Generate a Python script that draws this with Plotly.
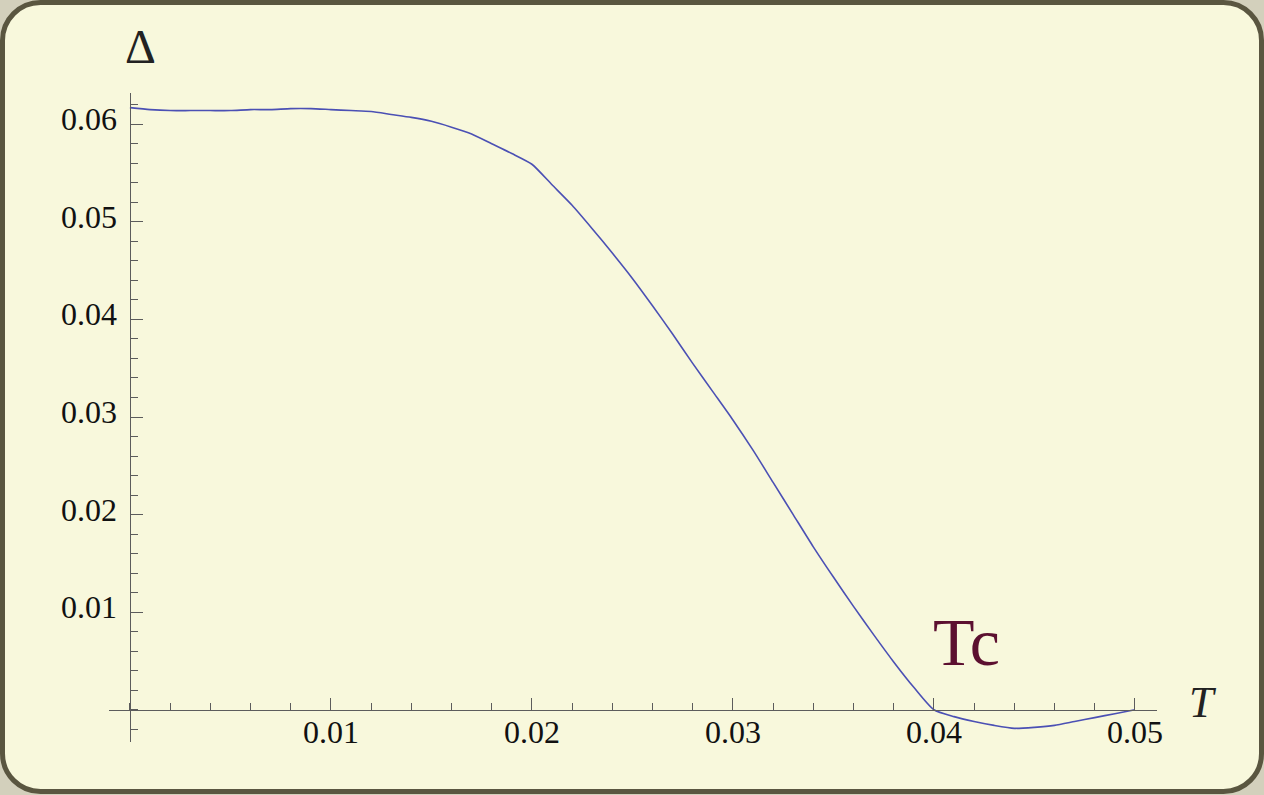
import plotly.graph_objects as go

# ---------------- data ----------------
T_vals = [0.000, 0.001, 0.002, 0.003, 0.004, 0.005, 0.006, 0.007, 0.008, 0.009,
          0.010, 0.011, 0.012, 0.013, 0.014, 0.015, 0.016, 0.017, 0.018, 0.019,
          0.020, 0.021, 0.022, 0.023, 0.024, 0.025, 0.026, 0.027, 0.028, 0.029,
          0.030, 0.031, 0.032, 0.033, 0.034, 0.035, 0.036, 0.037, 0.038, 0.039,
          0.040, 0.041, 0.042, 0.043, 0.044, 0.045, 0.046, 0.047, 0.048, 0.049,
          0.050]
Delta_vals = [0.0617, 0.0615, 0.0614, 0.0614, 0.0614, 0.0614, 0.0615, 0.0615, 0.0616, 0.0616,
              0.0615, 0.0614, 0.0613, 0.0610, 0.0607, 0.0603, 0.0597, 0.0590, 0.0580, 0.0570,
              0.0559, 0.0538, 0.0517, 0.0493, 0.0468, 0.0442, 0.0414, 0.0385, 0.0355, 0.0326,
              0.0297, 0.0266, 0.0233, 0.0200, 0.0167, 0.0136, 0.0106, 0.0077, 0.0049, 0.0023,
              0.0000, -0.0007, -0.0012, -0.0016, -0.0019, -0.0018, -0.0016, -0.0012, -0.0008, -0.0004,
              0.0000]

x_tickvals = [0.01, 0.02, 0.03, 0.04, 0.05]
x_ticktext = ["0.01", "0.02", "0.03", "0.04", "0.05"]
y_tickvals = [0.01, 0.02, 0.03, 0.04, 0.05, 0.06]
y_ticktext = ["0.01", "0.02", "0.03", "0.04", "0.05", "0.06"]

x_label = "<i>T</i>"
y_label = "Δ"
tc_label = "Tc"

# ---------------- layout geometry ----------------
W, H = 1264, 795
ML, MR, MT, MB = 109, 107, 93, 53
PW, PH = W - ML - MR, H - MT - MB
XR = [-0.00104, 0.0511]
YR = [-0.0033, 0.0632]

def pp(px, py):
    return (px - ML) / PW, (H - MB - py) / PH

def rounded_rect(x0, y0, x1, y1, r):
    k = 0.5523 * r
    pts = [
        ("M", [(x0 + r, y0)]),
        ("L", [(x1 - r, y0)]),
        ("C", [(x1 - r + k, y0), (x1, y0 + r - k), (x1, y0 + r)]),
        ("L", [(x1, y1 - r)]),
        ("C", [(x1, y1 - r + k), (x1 - r + k, y1), (x1 - r, y1)]),
        ("L", [(x0 + r, y1)]),
        ("C", [(x0 + r - k, y1), (x0, y1 - r + k), (x0, y1 - r)]),
        ("L", [(x0, y0 + r)]),
        ("C", [(x0, y0 + r - k), (x0 + r - k, y0), (x0 + r, y0)]),
    ]
    s = ""
    for cmd, cs in pts:
        s += cmd + " " + " ".join("%.6f,%.6f" % pp(a, b) for a, b in cs) + " "
    return s + "Z"

axis_color = "#5c5c5c"
serif = "Liberation Serif, Times New Roman, serif"
tick_font = dict(family=serif, size=32, color="#111111")

fig = go.Figure()
fig.add_trace(go.Scatter(
    x=T_vals, y=Delta_vals, mode="lines",
    line=dict(color="#4b50b4", width=1.6, shape="spline", smoothing=0.6),
    hoverinfo="skip", showlegend=False,
))

annotations = []
for v, t in zip(x_tickvals, x_ticktext):
    annotations.append(dict(x=v, y=0, xref="x", yref="y", text=t, showarrow=False,
                            font=tick_font, xanchor="center", yanchor="top", yshift=-2))
for v, t in zip(y_tickvals, y_ticktext):
    annotations.append(dict(x=0, y=v, xref="x", yref="y", text=t, showarrow=False,
                            font=tick_font, xanchor="right", yanchor="middle",
                            xshift=-11, yshift=5))

dx, dy = pp(140, 46)
tx, ty = pp(1203, 702)
annotations += [
    dict(x=dx, y=dy, xref="paper", yref="paper", text=y_label, showarrow=False,
         font=dict(family=serif, size=48, color="#222222"),
         xanchor="center", yanchor="middle"),
    dict(x=tx, y=ty, xref="paper", yref="paper", text=x_label, showarrow=False,
         font=dict(family=serif, size=44, color="#222222"),
         xanchor="center", yanchor="middle"),
    dict(x=0.0416, y=0.0069, xref="x", yref="y", text=tc_label, showarrow=False,
         font=dict(family=serif, size=68, color="#5c1030"),
         xanchor="center", yanchor="middle"),
]

fig.update_layout(
    width=W, height=H,
    margin=dict(l=ML, r=MR, t=MT, b=MB, pad=0),
    paper_bgcolor="#d3d0bc",
    plot_bgcolor="rgba(0,0,0,0)",
    showlegend=False,
    shapes=[dict(
        type="path", xref="paper", yref="paper", layer="below",
        path=rounded_rect(2.5, 2.5, 1261.5, 791.5, 38),
        fillcolor="#f8f8dc", line=dict(color="#5a5640", width=5),
    )],
    xaxis=dict(
        range=XR, anchor="free", position=(0 - YR[0]) / (YR[1] - YR[0]),
        showgrid=False, zeroline=False, showticklabels=False,
        showline=True, linecolor=axis_color, linewidth=1.3,
        tickmode="array", tickvals=x_tickvals,
        ticks="inside", ticklen=12, tickwidth=1.3, tickcolor=axis_color,
        minor=dict(dtick=0.002, tick0=0, ticks="inside", ticklen=7,
                   tickwidth=1.3, tickcolor=axis_color, showgrid=False),
    ),
    yaxis=dict(
        range=YR, anchor="free", position=(0 - XR[0]) / (XR[1] - XR[0]),
        showgrid=False, zeroline=False, showticklabels=False,
        showline=True, linecolor=axis_color, linewidth=1.3,
        tickmode="array", tickvals=y_tickvals,
        ticks="inside", ticklen=12, tickwidth=1.3, tickcolor=axis_color,
        minor=dict(dtick=0.002, tick0=0, ticks="inside", ticklen=7,
                   tickwidth=1.3, tickcolor=axis_color, showgrid=False),
    ),
    annotations=annotations,
)

fig.write_html(
    "out.html",
    config={"displayModeBar": False},
    post_script="document.body.style.margin='0';document.body.style.overflow='hidden';"
                "document.documentElement.style.overflow='hidden';",
)
